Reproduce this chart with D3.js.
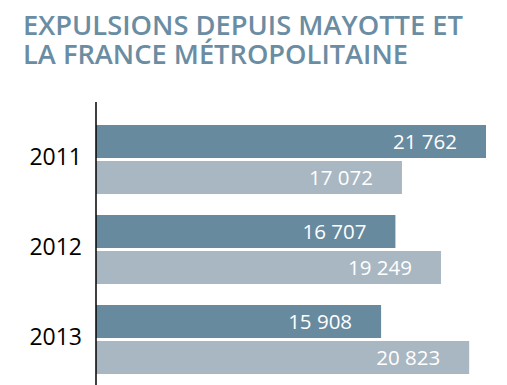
<!DOCTYPE html>
<html>
<head>
<meta charset="utf-8">
<script src="https://cdn.jsdelivr.net/npm/d3@7"></script>
<style>
  body { margin: 0; background: #fff; }
  text { font-family: "Open Sans", sans-serif; }
</style>
</head>
<body>
<svg id="chart" width="507" height="385"></svg>
<script>
  let years = ["2011", "2012", "2013"]
  let mayotte = [21762, 16707, 15908]
  let metropole = [17072, 19249, 20823]
  let title_lines = ["EXPULSIONS DEPUIS MAYOTTE ET", "LA FRANCE MÉTROPOLITAINE"]

  let fmt = v => d3.format(",")(v).replace(",", " ")

  function make_scales(margin) {
    return {
      x: d3.scaleLinear()
        .domain([0, 21762])
        .range([margin.left, 486]),
      // one 90px band per year
      y: d3.scaleBand()
        .domain(years)
        .range([111.5, 381.5])
    }
  }

  function draw_title(svg) {
    svg.append("text")
      .attr("fill", "#6a8da3")
      .attr("font-size", 26.5)
      .attr("font-weight", 600)
      .selectAll("tspan")
      .data(title_lines).enter()
      .append("tspan")
      .attr("x", 23)
      .attr("y", (d, i) => 35 + i * 28.5)
      .attr("textLength", (d, i) => i == 0 ? 440 : 385)
      .attr("lengthAdjust", "spacingAndGlyphs")
      .text(d => d)
  }

  function draw_bars(svg, scales) {
    let bar_h = 33
    let rows = years.map((y, i) => [
      {year: y, value: mayotte[i], k: 0},
      {year: y, value: metropole[i], k: 1}
    ]).flat()

    let top = d => scales.y(d.year) + 13.5 + d.k * (bar_h + 3)

    let g = svg.append("g")
    g.selectAll("rect")
      .data(rows).enter()
      .append("rect")
      .attr("x", scales.x(0))
      .attr("y", top)
      .attr("width", d => scales.x(d.value) - scales.x(0))
      .attr("height", bar_h)
      .attr("fill", d => d.k == 0 ? "#678a9f" : "#a8b7c2")

    g.selectAll("text")
      .data(rows).enter()
      .append("text")
      .attr("x", d => scales.x(d.value) - 29)
      .attr("y", d => top(d) + bar_h / 2 + 7)
      .attr("text-anchor", "end")
      .attr("fill", "#fff")
      .attr("font-size", 20.5)
      .text(d => fmt(d.value))
  }

  function draw_axes(svg, scales) {
    svg.append("line")
      .attr("x1", scales.x(0)).attr("x2", scales.x(0))
      .attr("y1", 102).attr("y2", 385)
      .attr("stroke", "#000")
      .attr("stroke-width", 1.5)

    svg.append("g").selectAll("text")
      .data(years).enter()
      .append("text")
      .attr("x", 82)
      .attr("y", d => scales.y(d) + 13.5 + 34.5 + 5)
      .attr("text-anchor", "end")
      .attr("fill", "#000")
      .attr("font-size", 23)
      .text(d => d)
  }

  function visualize() {
    let margin = {left: 96}
    let svg = d3.select("#chart")
    let scales = make_scales(margin)
    draw_title(svg)
    draw_bars(svg, scales)
    draw_axes(svg, scales)
  }

  visualize()
</script>
</body>
</html>
